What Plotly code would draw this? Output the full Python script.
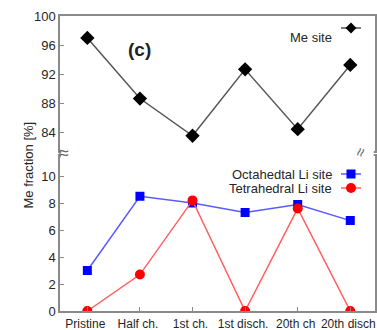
import plotly.graph_objects as go

categories = ["Pristine", "Half ch.", "1st ch.", "1st disch.", "20th ch", "20th disch"]
me_site = [97.0, 88.7, 83.6, 92.7, 84.5, 93.3]
octa_li = [3.0, 8.5, 8.0, 7.3, 7.9, 6.7]
tetra_li = [0.0, 2.7, 8.2, 0.0, 7.6, 0.0]
upper_ticks = [84, 88, 92, 96, 100]
lower_ticks = [0, 2, 4, 6, 8, 10]

x_idx = list(range(len(categories)))
FONT = "Liberation Sans, Arial, sans-serif"
TXT = "#262626"
AX = "#8a8a8a"

L, R, T, B = 60, 375, 16, 311


def px(xv):
    return (xv - L) / (R - L)


def py(yv):
    return (B - yv) / (B - T)


fig = go.Figure()
fig.add_trace(go.Scatter(x=x_idx, y=me_site, mode="lines+markers", name="Me site",
                         line=dict(color="#555555", width=1.5),
                         marker=dict(symbol="diamond", size=11, color="black"),
                         xaxis="x2", yaxis="y2"))
fig.add_trace(go.Scatter(x=x_idx, y=octa_li, mode="lines+markers", name="Octahedtal Li site",
                         line=dict(color="#5a5aff", width=1.5),
                         marker=dict(symbol="square", size=9, color="#0000ff"),
                         xaxis="x", yaxis="y"))
fig.add_trace(go.Scatter(x=x_idx, y=tetra_li, mode="lines+markers", name="Tetrahedral Li site",
                         line=dict(color="#ff6060", width=1.5),
                         marker=dict(symbol="circle", size=10, color="#ff0000"),
                         xaxis="x", yaxis="y"))

xr = [-0.52, 5.47]
base_axis = dict(showline=True, linecolor=AX, linewidth=1.5, mirror=True,
                 showgrid=False, zeroline=False, ticklen=4, tickcolor=AX, automargin=False)
yfont = dict(family=FONT, size=13, color=TXT)
xfont = dict(family=FONT, size=12, color=TXT)

fig.update_layout(
    width=377, height=330,
    margin=dict(l=L, r=377 - R, t=T, b=330 - B),
    paper_bgcolor="white", plot_bgcolor="white",
    showlegend=False,
    xaxis=dict(range=xr, tickmode="array", tickvals=x_idx, ticktext=categories,
               domain=[0, 1], anchor="y", ticks="inside", ticklabeloverflow="allow",
               tickangle=0, tickfont=xfont, ticklabelshift=-2, ticklabelstandoff=1, **base_axis),
    yaxis=dict(range=[0, 11.48], tickvals=lower_ticks, domain=[0, 0.525], anchor="x",
               ticks="inside", tickfont=yfont, **base_axis),
    xaxis2=dict(range=xr, showticklabels=False, tickvals=x_idx, domain=[0, 1], anchor="y2",
                ticks="", **base_axis),
    yaxis2=dict(range=[81.5, 100], tickvals=upper_ticks, domain=[0.542, 1], anchor="x2",
                ticks="inside", tickfont=yfont, **base_axis),
)
# hide the inner horizontal borders between the two panels
fig.add_shape(type="rect", xref="paper", yref="paper", x0=0.004, x1=0.996, y0=0.52, y1=0.547,
              fillcolor="white", line=dict(width=0), layer="above")
# continuous left axis
fig.add_shape(type="line", xref="paper", yref="paper", x0=0, x1=0, y0=0.52, y1=0.547,
              line=dict(color=AX, width=1.5))

# break marks
fig.add_annotation(x=px(57), y=py(153), xref="paper", yref="paper", text="≈", showarrow=False,
                   font=dict(family=FONT, size=18, color="#666666"))
fig.add_annotation(x=px(373), y=py(152), xref="paper", yref="paper", text="≈", showarrow=False,
                   textangle=-70, font=dict(family=FONT, size=16, color="#666666"))

fig.add_annotation(x=px(18), y=py(165), xref="paper", yref="paper", text="Me fraction [%]",
                   textangle=-90, showarrow=False, font=dict(family=FONT, size=13, color=TXT))
fig.add_annotation(x=px(126), y=py(37), xref="paper", yref="paper",
                   text="<b>(c)</b>", showarrow=False, font=dict(family=FONT, size=19, color="#222222"))

# manual legend (text left of symbol)
legend_items = [("Me site", 28, "#555555", "diamond", "black", 11),
                ("Octahedtal Li site", 174, "#5a5aff", "square", "#0000ff", 9),
                ("Tetrahedral Li site", 188, "#ff6060", "circle", "#ff0000", 10)]
for name, ypix, lc, sym, mc, ms in legend_items:
    yp = py(ypix)
    fig.add_annotation(x=px(334), y=yp, xref="paper", yref="paper", text=name,
                       xanchor="right", showarrow=False,
                       font=dict(family=FONT, size=13, color=TXT))
    fig.add_shape(type="line", xref="paper", yref="paper",
                  x0=px(341), x1=px(361), y0=yp, y1=yp,
                  line=dict(color=lc, width=1.5))
    cx, cy = 351, ypix
    h = ms / 2
    if sym == "circle":
        fig.add_shape(type="circle", xref="paper", yref="paper",
                      x0=px(cx - h), x1=px(cx + h), y0=py(cy + h), y1=py(cy - h),
                      fillcolor=mc, line=dict(width=0))
        continue
    if sym == "diamond":
        coords = [(cx, cy - h), (cx + h, cy), (cx, cy + h), (cx - h, cy)]
    else:
        coords = [(cx - h, cy - h), (cx + h, cy - h), (cx + h, cy + h), (cx - h, cy + h)]
    p = "M " + " L ".join(f"{px(a)} {py(b)}" for a, b in coords) + " Z"
    fig.add_shape(type="path", xref="paper", yref="paper", path=p,
                  fillcolor=mc, line=dict(width=0))

fig.write_html("out.html")
